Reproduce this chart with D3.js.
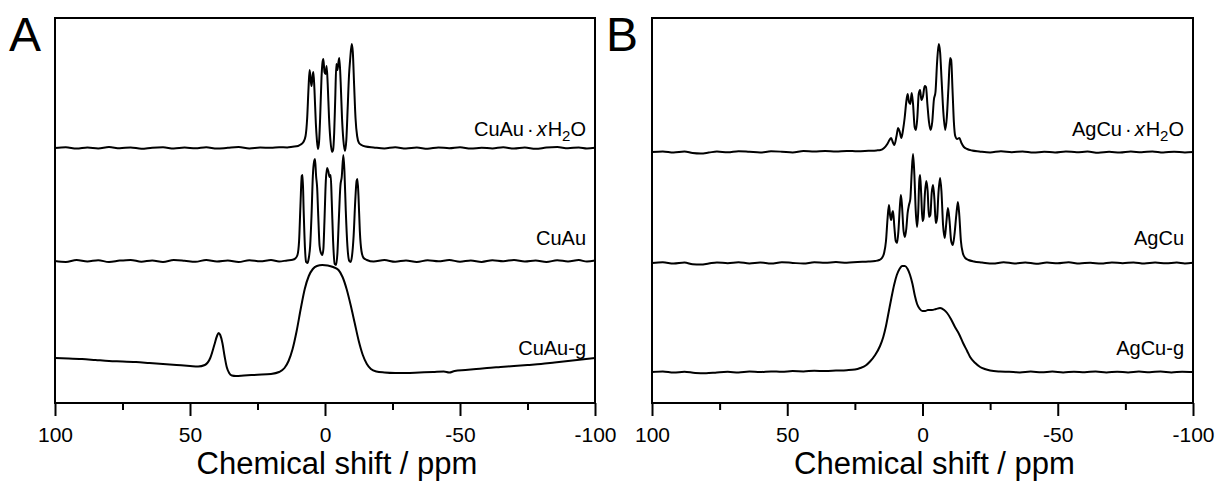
<!DOCTYPE html>
<html>
<head>
<meta charset="utf-8">
<script src="https://cdn.jsdelivr.net/npm/d3@7"></script>
<style>
  html, body { margin: 0; padding: 0; background: #fff; }
  svg { display: block; font-family: "Liberation Sans", Arial, sans-serif; }
</style>
</head>
<body>
<svg id="chart" width="1220" height="484"></svg>
<script>
// ---------- DATA ----------
const xTicksMajor = [100, 50, 0, -50, -100];
const xTicksMinor = [75, 25, -25, -75];
const xTickLabels = ["100", "50", "0", "-50", "-100"];
const xDomain = [100, -100];
const axisTitle = "Chemical shift / ppm";
const panelLetters = ["A", "B"];

// spectrum offsets (arbitrary intensity units)
const offsetsA = [255, 142, 30];
const offsetsB = [251, 140, 31];

// Panel A: CuAu·xH2O  [ppm, intensity]
const cuAuHydrate = [
  [100,0],[96,0.8],[92,-0.6],[88,0.5],[84,-0.4],[80,0.9],[76,-0.2],[72,0.6],[68,-0.8],[64,0.3],
  [60,0.7],[56,-0.5],[52,0.4],[48,-0.3],[44,0.8],[40,-0.6],[36,0.2],[32,0.9],[28,-0.4],[24,0.5],
  [20,0.2],[17,0.8],[14,0.5],[12,1.2],[10,2],[9,3.5],[8,6],[7.2,12],[6.6,30],[6.1,60],[5.7,78],
  [5.3,68],[5.0,62],[4.6,72],[4.3,76],[3.9,58],[3.4,25],[3.0,8],[2.6,-1],[2.2,6],[1.8,30],
  [1.3,70],[0.9,86],[0.6,89],[0.2,76],[-0.2,74],[-0.6,82],[-1.0,64],[-1.5,30],[-2.0,8],
  [-2.6,-4],[-3.0,-2],[-3.4,15],[-3.8,50],[-4.2,84],[-4.6,78],[-5.0,86],[-5.3,90],[-5.8,66],
  [-6.3,30],[-6.8,8],[-7.4,-3],[-7.9,8],[-8.4,40],[-8.9,73],[-9.3,88],[-9.9,104],[-10.3,96],
  [-10.8,62],[-11.3,30],[-11.9,12],[-12.6,5],[-13.5,3],[-15,1.5],[-18,0.6],[-22,-0.4],[-26,0.7],
  [-30,-0.5],[-34,0.4],[-38,-0.7],[-42,0.6],[-46,-0.2],[-50,0.8],[-54,-0.6],[-58,0.3],[-62,-0.4],
  [-66,0.7],[-70,-0.5],[-74,0.5],[-78,-0.8],[-82,0.4],[-86,0.9],[-90,-0.3],[-94,0.6],[-97,-0.4],[-100,0.3]
];

// Panel A: CuAu
const cuAu = [
  [100,0],[96,-0.9],[92,1],[88,-0.5],[84,0.8],[80,-1],[76,0.4],[72,1.1],[68,-0.7],[64,0.5],
  [60,-1],[56,0.9],[52,0.2],[48,-0.8],[44,1],[40,-0.4],[36,0.6],[32,-1],[28,0.8],[24,-0.3],
  [20,0.9],[17,-0.5],[14,0.6],[12,1.2],[11,2.5],[10.2,6],[9.6,20],[9.1,55],[8.6,85],[8.3,86],
  [7.9,50],[7.4,12],[7.0,-1],[6.5,-2],[6.0,3],[5.5,15],[5.0,45],[4.5,85],[4.0,100],[3.7,102],
  [3.3,85],[2.9,73],[2.5,45],[2.0,15],[1.5,8],[1.0,6],[0.6,12],[0.2,40],[-0.3,80],[-0.8,93],
  [-1.2,90],[-1.7,84],[-2.1,86],[-2.5,60],[-3.0,20],[-3.6,-3],[-4.1,-4],[-4.6,8],[-5.1,40],
  [-5.7,75],[-6.2,84],[-6.8,106],[-7.2,90],[-7.7,50],[-8.3,15],[-9.0,0],[-9.5,-1],[-10.0,5],
  [-10.6,25],[-11.2,60],[-11.7,80],[-12.0,82],[-12.4,65],[-12.9,30],[-13.5,10],[-14.3,3],
  [-15.5,1],[-18,-0.6],[-22,0.9],[-26,-0.8],[-30,0.6],[-34,-1],[-38,0.7],[-42,-0.3],[-46,1],
  [-50,-0.7],[-54,0.5],[-58,-0.9],[-62,0.8],[-66,-0.2],[-70,1],[-74,-0.6],[-78,0.4],[-82,-1],
  [-86,0.7],[-90,-0.4],[-94,0.9],[-97,-0.6],[-100,0.4]
];

// Panel A: CuAu-g
const cuAuG = [
  [100,15],[95,14.6],[90,14],[85,13],[80,12],[75,11.6],[70,11],[65,10],[60,9],[55,8],
  [50,7],[47,6.5],[44.5,8],[42.5,15],[41,28],[40,37],[39.4,40],[38.8,38],[38,30],[37.2,17],
  [36.4,6],[35.5,0],[34.5,-2.5],[33,-3],[30,-2.5],[25,-1.8],[20,-1],[17,1],[15,5],[13.5,12],
  [12,24],[10.5,42],[9,64],[7.5,84],[6,97],[4.5,104],[3,107],[1,108],[-1,107.5],[-3,106],
  [-5,103],[-6.5,96],[-8,84],[-9.5,68],[-11,50],[-12.5,32],[-14,18],[-15.5,9],[-17,4],
  [-19,1.5],[-22,0.5],[-26,0],[-30,0],[-35,0.5],[-40,1],[-44,1.5],[-46,0.5],[-48,2],[-52,3],
  [-56,4],[-60,5],[-65,6],[-70,7],[-75,8],[-80,9],[-85,10.5],[-90,12],[-95,13.5],[-100,15]
];

// Panel B: AgCu·xH2O
const agCuHydrate = [
  [100,0],[96,0.6],[92,-0.5],[88,0.4],[85,-1],[82,-1.5],[79,-0.6],[76,0.5],[72,-0.3],[68,0.8],
  [64,0.2],[60,-0.5],[56,0.7],[52,0.3],[48,-0.4],[44,0.9],[40,0.5],[36,1],[32,0.4],[28,1.1],
  [24,0.7],[20,1.2],[17,1.6],[15.5,2],[14.2,4],[13,8],[12.2,12],[11.6,14],[11,10],[10.4,7],
  [9.6,16],[9.0,24],[8.4,20],[7.8,14],[7.2,22],[6.6,34],[6.0,50],[5.5,58],[5.0,50],[4.5,48],
  [4.0,59],[3.5,48],[2.9,25],[2.4,22],[1.9,35],[1.4,58],[0.9,62],[0.4,52],[-0.2,56],[-0.8,66],
  [-1.3,65],[-1.8,48],[-2.4,30],[-3.0,22],[-3.6,30],[-4.2,52],[-4.8,60],[-5.4,90],[-6.0,108],
  [-6.5,100],[-7.1,70],[-7.7,40],[-8.4,22],[-9.0,35],[-9.6,65],[-10.2,94],[-10.6,92],[-11.1,62],
  [-11.6,30],[-12.1,16],[-12.8,13],[-13.6,14],[-14.4,9],[-15.3,5],[-16.5,3],[-18.3,1.5],
  [-21,0.6],[-25,-0.4],[-29,0.7],[-33,-0.2],[-37,0.5],[-41,-0.6],[-45,0.3],[-49,-0.4],[-53,0.6],
  [-57,-0.3],[-61,0.4],[-65,-0.7],[-69,0.2],[-73,-0.5],[-77,0.5],[-81,-0.3],[-85,0.6],[-89,-0.5],
  [-93,0.3],[-97,-0.4],[-100,0]
];

// Panel B: AgCu
const agCu = [
  [100,0],[96,0.7],[92,-0.6],[88,0.4],[85,-1.2],[82,-1.6],[79,-0.5],[76,0.6],[72,-0.2],[68,0.7],
  [64,-0.4],[60,0.5],[56,-0.6],[52,0.8],[48,0.1],[44,-0.5],[40,0.7],[36,0.2],[32,0.9],[28,0.3],
  [24,1],[20,1.4],[17.5,2],[16,3],[15,5],[14.2,10],[13.5,22],[12.9,45],[12.4,58],[12.0,48],
  [11.6,43],[11.2,50],[10.9,52],[10.4,36],[9.9,22],[9.4,20],[8.9,32],[8.4,55],[8.0,68],[7.6,58],
  [7.0,32],[6.5,26],[6.0,34],[5.5,50],[5.0,58],[4.5,64],[4.0,90],[3.5,109],[3.0,88],[2.5,52],
  [2.0,36],[1.6,50],[1.2,82],[0.9,88],[0.5,70],[0.0,42],[-0.4,45],[-0.9,70],[-1.4,82],[-1.9,72],
  [-2.4,46],[-2.9,48],[-3.4,70],[-3.9,78],[-4.4,64],[-4.9,40],[-5.4,45],[-5.9,70],[-6.5,85],
  [-7.0,72],[-7.6,38],[-8.2,25],[-8.8,40],[-9.4,55],[-10.0,42],[-10.6,22],[-11.2,18],[-11.8,28],
  [-12.5,48],[-13.1,61],[-13.6,48],[-14.2,22],[-14.9,10],[-15.8,5],[-17,3],[-19,1.5],[-22,0.5],
  [-26,-0.6],[-30,0.8],[-34,-0.4],[-38,0.5],[-42,-0.7],[-46,0.4],[-50,-0.3],[-54,0.7],[-58,-0.5],
  [-62,0.3],[-66,-0.6],[-70,0.5],[-74,-0.2],[-78,0.6],[-82,-0.5],[-86,0.4],[-90,-0.3],[-94,0.5],
  [-97,-0.4],[-100,0.2]
];

// Panel B: AgCu-g
const agCuG = [
  [100,0],[96,0.5],[92,-0.6],[88,0.3],[84,-1],[80,-1.2],[76,-0.4],[72,0.2],[68,-0.5],[64,0.4],
  [60,0],[56,0.6],[52,0.2],[48,0.9],[44,0.6],[40,1.2],[36,1],[32,1.4],[28,1.8],[25,2.5],
  [23,4],[21,6.5],[19.4,10.5],[17.5,17],[15.7,26],[14.5,35],[13.5,46],[12.5,60],[11.5,74],[10.5,87],
  [9.5,97],[8.5,103],[7.5,106],[6.5,106],[5.5,103],[4.6,97],[3.7,88],[2.8,76],[2.0,68],[1.0,63],
  [0.0,61],[-1.0,61],[-2.0,62],[-3.5,62],[-5.0,63],[-6.5,64],[-8.0,62],[-9.1,59],[-10.5,53],
  [-12,45],[-13.5,38],[-15,29],[-16.5,21],[-17.6,15],[-19.5,9],[-21.3,5],[-23,3],[-25,1.5],
  [-28.6,0.5],[-32,0.2],[-36,-0.4],[-40,0.5],[-44,-0.3],[-48,0.4],[-52,-0.5],[-56,0.3],[-60,-0.2],
  [-64,0.5],[-68,-0.4],[-72,0.3],[-76,-0.5],[-80,0.4],[-84,-0.2],[-88,0.5],[-92,-0.4],[-96,0.3],[-100,0]
];

const labelsA = ["CuAu", "CuAu", "CuAu-g"];
const labelsB = ["AgCu", "AgCu", "AgCu-g"];
const labelValuesA = [267, 158, 48];   // label baseline positions (intensity units)
const labelValuesB = [267, 158, 48];

// ---------- CHART ----------
const svg = d3.select("#chart");
const yScale = d3.scaleLinear().domain([0, 385]).range([403, 18]);

const panels = [
  { letter: panelLetters[0], x: d3.scaleLinear().domain(xDomain).range([55, 595]),
    spectra: [cuAuHydrate, cuAu, cuAuG], offsets: offsetsA, labels: labelsA, labelY: labelValuesA },
  { letter: panelLetters[1], x: d3.scaleLinear().domain(xDomain).range([652, 1193]),
    spectra: [agCuHydrate, agCu, agCuG], offsets: offsetsB, labels: labelsB, labelY: labelValuesB }
];

panels.forEach(p => {
  const g = svg.append("g");
  const [x0, x1] = p.x.range();
  const [yb, yt] = yScale.range();

  // spectra
  p.spectra.forEach((s, i) => {
    const line = d3.line()
      .x(d => p.x(d[0]))
      .y(d => yScale(d[1] + p.offsets[i]))
      .curve(d3.curveMonotoneX);
    g.append("path")
      .datum(s)
      .attr("d", line)
      .attr("fill", "none")
      .attr("stroke", "#000")
      .attr("stroke-width", 2)
      .attr("stroke-linejoin", "round");
  });

  // frame
  g.append("rect")
    .attr("x", x0).attr("y", yt)
    .attr("width", x1 - x0).attr("height", yb - yt)
    .attr("fill", "none").attr("stroke", "#000").attr("stroke-width", 2);

  // bottom axis major
  const axMajor = d3.axisBottom(p.x).tickValues(xTicksMajor).tickSize(13).tickPadding(11)
    .tickFormat((d, i) => xTickLabels[i]);
  const axG = g.append("g").attr("transform", `translate(0,${yb})`).call(axMajor);
  axG.select(".domain").remove();
  axG.selectAll(".tick line").attr("stroke", "#000").attr("stroke-width", 2);
  axG.selectAll(".tick text").attr("font-size", 21).attr("fill", "#000")
     .attr("font-family", "Liberation Sans, Arial, sans-serif");

  const axMinor = d3.axisBottom(p.x).tickValues(xTicksMinor).tickSize(7).tickFormat("");
  const axM = g.append("g").attr("transform", `translate(0,${yb})`).call(axMinor);
  axM.select(".domain").remove();
  axM.selectAll(".tick line").attr("stroke", "#000").attr("stroke-width", 2);

  // axis title
  g.append("text")
    .attr("x", (x0 + x1) / 2 + 12).attr("y", 474)
    .attr("text-anchor", "middle").attr("font-size", 31)
    .text(axisTitle);

  // panel letter
  g.append("text")
    .attr("x", x0 - 46).attr("y", 51)
    .attr("font-size", 48)
    .text(p.letter);

  // spectrum labels
  p.labels.forEach((lab, i) => {
    const t = g.append("text")
      .attr("x", x1 - 9).attr("y", yScale(p.labelY[i]))
      .attr("text-anchor", "end").attr("font-size", 20);
    if (i === 0) {
      t.append("tspan").text(lab);
      t.append("tspan").attr("dx", 3).text("·");
      t.append("tspan").attr("dx", 3).attr("font-style", "italic").text("x");
      t.append("tspan").attr("dx", 1).text("H");
      t.append("tspan").attr("font-size", 15).attr("dy", 5).text("2");
      t.append("tspan").attr("dy", -5).text("O");
    } else {
      t.text(lab);
    }
  });
});
</script>
</body>
</html>
